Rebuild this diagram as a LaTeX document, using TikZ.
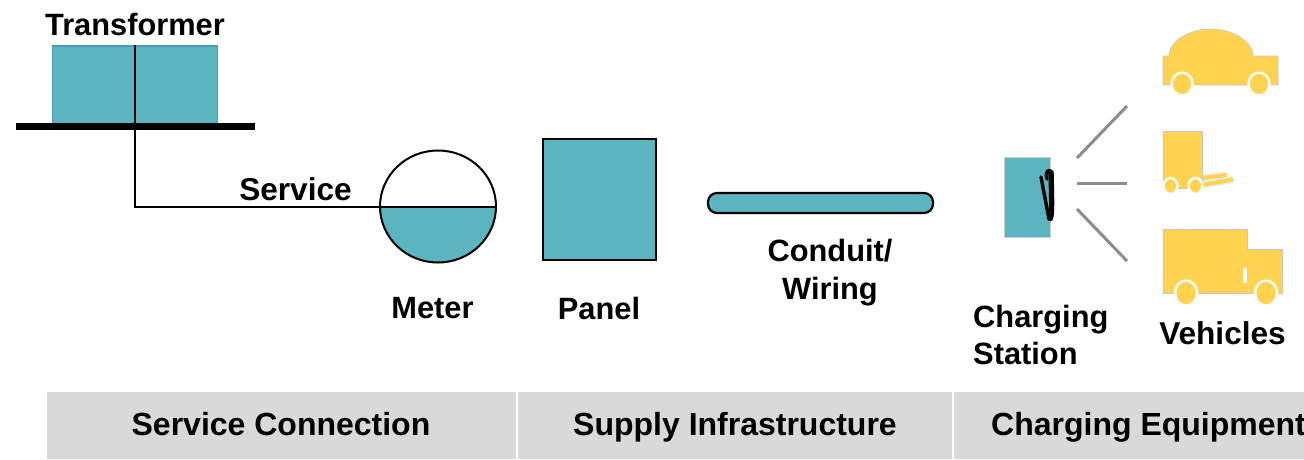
\documentclass[tikz,border=0pt]{standalone}
\usepackage{fontspec}
\setmainfont{Liberation Sans}
\usetikzlibrary{calc,shapes.geometric}
\definecolor{teal1}{HTML}{5AB5C0}
\definecolor{tealedge}{HTML}{4A9ABA}
\definecolor{veh}{HTML}{FFD34F}
\definecolor{band}{HTML}{D9D9D9}
\tikzset{
  x=1pt,y=-1pt,
  lbl/.style={font=\bfseries\fontsize{30.8}{35}\selectfont,inner sep=0pt,align=center,text=black},
  lblwide/.style={lbl,font=\bfseries\fontsize{31.6}{35}\selectfont},
  head/.style={font=\bfseries\fontsize{32}{38}\selectfont,inner sep=0pt,text=black,anchor=base},
  wire/.style={draw=black,line width=2pt},
  ray/.style={draw=gray!90,line width=3pt},
  vehbody/.style={fill=veh,draw=gray!45,line width=0.7pt},
  wheel/.style={fill=veh,draw=white,line width=2.4pt},
}
\begin{document}
\begin{tikzpicture}
\useasboundingbox (0,0) rectangle (1304,459);
% bottom bands
\fill[band] (47,392) rectangle (516,459);
\fill[band] (518,392) rectangle (952,459);
\fill[band] (954,392) rectangle (1304,459);
\node[head] (hservice) at (281,435) {Service Connection};
\node[head] (hsupply) at (735,435) {Supply Infrastructure};
\node[head,anchor=base west] (hcharge) at (991,435) {Charging Equipment};
% transformer
\node[draw=tealedge,fill=teal1,line width=1.6pt,inner sep=0pt,minimum width=165pt,minimum height=78pt] (transformer) at (135,85) {};
\node[fill=black,inner sep=0pt,minimum width=239pt,minimum height=7.5pt] (bar) at (135.5,126.5) {};
% meter
\node[ellipse,draw=none,fill=white,inner sep=0pt,minimum width=116pt,minimum height=112pt] (meter) at (438,206.5) {};
\fill[teal1] (meter.west) arc[start angle=180,end angle=360,x radius=58pt,y radius=56pt] -- cycle;
\draw[wire] (meter.center) ellipse[x radius=58pt,y radius=56pt];
\draw[wire] (meter.west) -- (meter.east);
\draw[wire] (transformer.north) -- (transformer.north |- meter.west) -- (meter.west);
% labels
\node[lbl,anchor=base] (ltrans) at (135,35) {Transformer};
\node[lblwide,anchor=base] (lservice) at (295.5,200) {Service};
\node[lbl,anchor=base] (lmeter) at (432.5,318) {Meter};
\node[lbl,anchor=base] (lpanel) at (599,319.5) {Panel};
\node[lbl] (lconduit) at (830,272.5) {Conduit/\\[3.5pt]Wiring};
\node[lbl,align=left,anchor=west] (lstation) at (973,334.5) {Charging\\[2pt]Station};
\node[lblwide,anchor=base] (lveh) at (1222.5,344) {Vehicles};
% panel, conduit
\node[draw=black,fill=teal1,line width=2.2pt,inner sep=0pt,minimum width=113pt,minimum height=121pt] (panel) at (599.5,199.5) {};
\node[draw=black,fill=teal1,line width=2.2pt,rounded corners=9pt,inner sep=0pt,minimum width=225pt,minimum height=20pt] (conduit) at (820.5,203) {};
% station
\node[fill=teal1,draw=gray!40,line width=0.4pt,inner sep=0pt,minimum width=46pt,minimum height=80pt] (station) at (1027,197) {};
\draw[black,line width=3.4pt,line join=round,line cap=round] (1041,177) -- (1049,219) .. controls (1053,223) and (1053,210) .. (1052,172) .. controls (1048,168) and (1045,172) .. (1047,179);
\draw[black,line width=3.2pt,line cap=round] (1050,172) -- (1051,218);
% rays
\coordinate (r1a) at (1077,158); \coordinate (r1b) at (1127,106);
\coordinate (r2a) at (1077,183); \coordinate (r2b) at (1127,183);
\coordinate (r3a) at (1077,209); \coordinate (r3b) at (1127,261);
\draw[ray] (r1a) -- (r1b);
\draw[ray] (r2a) -- (r2b);
\draw[ray] (r3a) -- (r3b);
% car
\draw[vehbody] (1163,85) -- (1163,56) -- (1169,56) .. controls (1169,41) and (1190,29) .. (1211,29) .. controls (1232,29) and (1253,41) .. (1253,56) -- (1278,56) -- (1278,85) -- cycle;
\draw[wheel] (1182,84) ellipse[x radius=10.5pt,y radius=11.5pt];
\draw[wheel] (1259,84) ellipse[x radius=10.5pt,y radius=11.5pt];
% forklift
\draw[white!85!gray,line width=7pt] (1202,178) -- (1227,175);
\draw[white!85!gray,line width=7pt] (1202,185) -- (1233,179.5);
\draw[veh,line width=4pt] (1202,178) -- (1227,175);
\draw[veh,line width=4pt] (1202,185) -- (1233,179.5);
\draw[vehbody] (1163,131) rectangle (1202,188);
\draw[wheel] (1170.5,186) ellipse[x radius=7pt,y radius=8pt];
\draw[wheel] (1195.5,186) ellipse[x radius=7pt,y radius=8pt];
% truck
\draw[vehbody] (1163,293) -- (1163,229) -- (1247,229) -- (1247,249) -- (1282,249) -- (1282,293) -- cycle;
\fill[white] (1242.5,268) rectangle (1247,283);
\draw[wheel] (1186,293) ellipse[x radius=11pt,y radius=12.5pt];
\draw[wheel] (1266,293) ellipse[x radius=11pt,y radius=12.5pt];
\end{tikzpicture}
\end{document}
